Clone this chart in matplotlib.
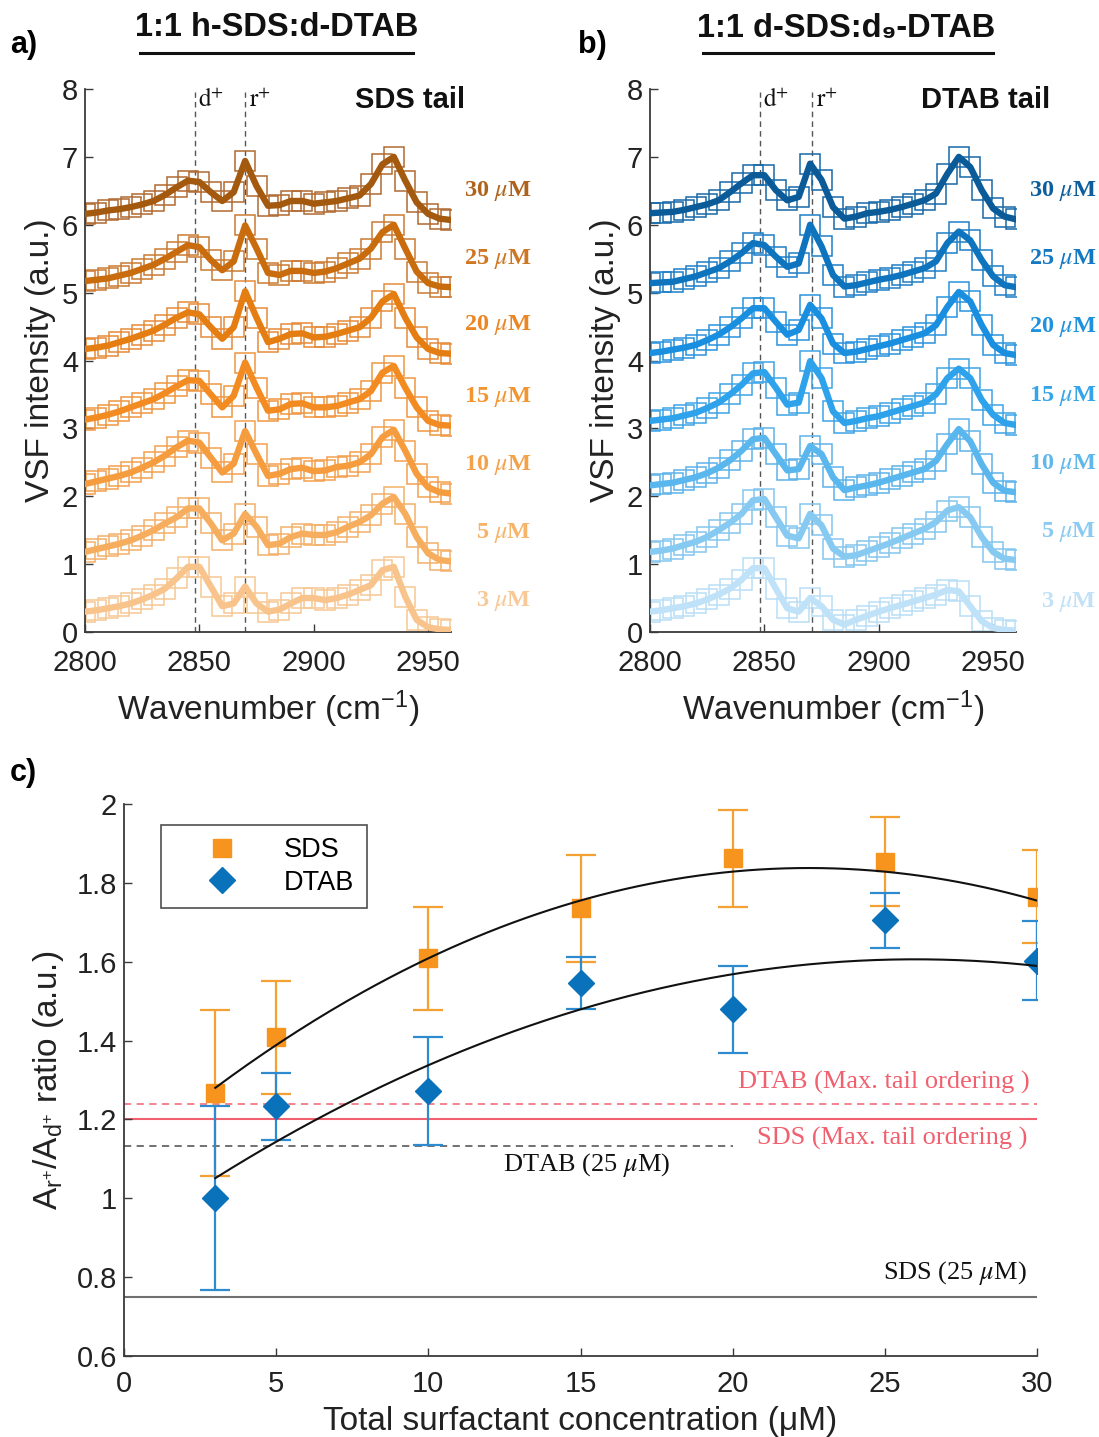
import numpy as np
import matplotlib
matplotlib.use("Agg")
import matplotlib.pyplot as plt
from matplotlib.lines import Line2D

plt.rcParams['font.family'] = ['Liberation Sans', 'DejaVu Sans']
plt.rcParams['mathtext.fontset'] = 'custom'
plt.rcParams['mathtext.rm'] = 'Liberation Sans'
plt.rcParams['mathtext.it'] = 'Liberation Sans:italic'
plt.rcParams['mathtext.bf'] = 'Liberation Sans:bold'

# ---------------- data: spectra ----------------
wavenumber = [2800, 2805, 2810, 2815, 2820, 2825, 2830, 2835, 2840, 2845, 2850,
              2855, 2860, 2865, 2870, 2875, 2880, 2885, 2890, 2895, 2900, 2905,
              2910, 2915, 2920, 2925, 2930, 2935, 2940, 2945, 2950, 2955, 2960]

conc_labels = ['3', '5', '10', '15', '20', '25', '30']

sds_3 = [.30, .32, .35, .38, .42, .48, .55, .64, .79, .96, .96, .67, .38, .42, .67, .42, .30,
         .33, .42, .50, .50, .47, .50, .55, .62, .69, .91, .96, .52, .18, .07, .04, .03]
sds_5 = [1.18, 1.22, 1.26, 1.30, 1.35, 1.42, 1.50, 1.60, 1.69, 1.82, 1.82, 1.60, 1.35, 1.45,
         1.74, 1.55, 1.28, 1.30, 1.40, 1.45, 1.43, 1.43, 1.47, 1.55, 1.62, 1.72, 1.89, 1.99,
         1.74, 1.40, 1.16, 1.06, 1.04]
sds_10 = [2.18, 2.22, 2.26, 2.30, 2.35, 2.42, 2.50, 2.60, 2.72, 2.82, 2.79, 2.57, 2.35, 2.48,
          2.96, 2.62, 2.30, 2.33, 2.40, 2.42, 2.37, 2.38, 2.43, 2.45, 2.50, 2.62, 2.87, 2.98,
          2.67, 2.33, 2.13, 2.06, 2.04]
sds_15 = [3.13, 3.16, 3.20, 3.25, 3.31, 3.37, 3.43, 3.52, 3.62, 3.71, 3.70, 3.50, 3.31, 3.48,
          3.97, 3.60, 3.26, 3.28, 3.36, 3.37, 3.31, 3.31, 3.33, 3.38, 3.43, 3.55, 3.82, 3.92,
          3.60, 3.31, 3.11, 3.05, 3.04]
sds_20 = [4.17, 4.19, 4.22, 4.27, 4.32, 4.38, 4.44, 4.53, 4.63, 4.71, 4.68, 4.49, 4.32, 4.49,
          5.02, 4.63, 4.27, 4.32, 4.39, 4.40, 4.34, 4.35, 4.39, 4.44, 4.49, 4.63, 4.87, 4.98,
          4.63, 4.34, 4.17, 4.11, 4.10]
sds_25 = [5.17, 5.19, 5.21, 5.25, 5.29, 5.35, 5.41, 5.50, 5.60, 5.70, 5.67, 5.48, 5.33, 5.46,
          5.99, 5.65, 5.29, 5.26, 5.32, 5.32, 5.29, 5.31, 5.36, 5.43, 5.50, 5.65, 5.89, 6.00,
          5.65, 5.31, 5.14, 5.09, 5.08]
sds_30 = [6.16, 6.18, 6.21, 6.23, 6.26, 6.30, 6.35, 6.44, 6.55, 6.65, 6.63, 6.48, 6.35, 6.48,
          6.94, 6.57, 6.28, 6.29, 6.35, 6.35, 6.31, 6.33, 6.35, 6.39, 6.43, 6.60, 6.89, 7.00,
          6.65, 6.33, 6.16, 6.09, 6.07]

dtab_3 = [.30, .32, .35, .38, .42, .48, .55, .64, .77, .94, .94, .64, .35, .30, .50, .38, .18,
          .11, .18, .24, .30, .35, .40, .45, .50, .55, .62, .60, .38, .16, .06, .03, .02]
dtab_5 = [1.18, 1.20, 1.23, 1.28, 1.33, 1.40, 1.50, 1.61, 1.74, 1.94, 1.96, 1.69, 1.42, 1.38,
          1.74, 1.57, 1.23, 1.11, 1.13, 1.19, 1.25, 1.31, 1.38, 1.45, 1.52, 1.62, 1.79, 1.84,
          1.69, 1.40, 1.18, 1.08, 1.06]
dtab_10 = [2.16, 2.18, 2.20, 2.24, 2.28, 2.34, 2.42, 2.53, 2.67, 2.84, 2.86, 2.62, 2.38, 2.40,
           2.74, 2.62, 2.28, 2.09, 2.13, 2.16, 2.20, 2.25, 2.30, 2.35, 2.40, 2.52, 2.77, 2.99,
           2.81, 2.47, 2.20, 2.08, 2.06]
dtab_15 = [3.11, 3.13, 3.15, 3.19, 3.23, 3.30, 3.38, 3.50, 3.64, 3.81, 3.83, 3.60, 3.35, 3.38,
           3.99, 3.74, 3.25, 3.08, 3.11, 3.15, 3.18, 3.23, 3.28, 3.33, 3.38, 3.50, 3.74, 3.88,
           3.74, 3.42, 3.20, 3.08, 3.05]
dtab_20 = [4.11, 4.13, 4.16, 4.19, 4.23, 4.30, 4.38, 4.49, 4.62, 4.77, 4.77, 4.57, 4.38, 4.45,
           4.82, 4.62, 4.25, 4.11, 4.13, 4.17, 4.21, 4.25, 4.30, 4.35, 4.40, 4.52, 4.79, 5.01,
           4.87, 4.52, 4.23, 4.11, 4.08]
dtab_25 = [5.14, 5.15, 5.16, 5.20, 5.24, 5.30, 5.36, 5.46, 5.58, 5.73, 5.70, 5.53, 5.38, 5.43,
           6.00, 5.68, 5.26, 5.09, 5.11, 5.15, 5.19, 5.22, 5.26, 5.31, 5.36, 5.46, 5.73, 5.90,
           5.77, 5.48, 5.24, 5.11, 5.08]
dtab_30 = [6.17, 6.18, 6.19, 6.22, 6.26, 6.30, 6.36, 6.48, 6.61, 6.73, 6.73, 6.51, 6.36, 6.41,
           6.90, 6.66, 6.26, 6.09, 6.12, 6.17, 6.19, 6.22, 6.26, 6.31, 6.36, 6.46, 6.75, 7.00,
           6.85, 6.51, 6.24, 6.12, 6.08]

sds_spectra = [sds_3, sds_5, sds_10, sds_15, sds_20, sds_25, sds_30]
dtab_spectra = [dtab_3, dtab_5, dtab_10, dtab_15, dtab_20, dtab_25, dtab_30]

peak_d_a, peak_r_a = 2848, 2870
peak_d_b, peak_r_b = 2848, 2871

# ---------------- data: ratio panel ----------------
conc = [3, 5, 10, 15, 20, 25, 30]
sds_ratio = [1.267, 1.408, 1.609, 1.735, 1.863, 1.854, 1.765]
sds_err = [0.210, 0.144, 0.131, 0.135, 0.123, 0.113, 0.118]
dtab_ratio = [1.000, 1.233, 1.271, 1.546, 1.479, 1.705, 1.603]
dtab_err = [0.233, 0.086, 0.137, 0.065, 0.111, 0.069, 0.101]
sds_fit_coef = [-0.001467, 0.0660, 1.0953]
dtab_fit_coef = [-0.001049, 0.05455, 0.8969]
fit_range = [3, 30]
ref_dtab_max = 1.238
ref_sds_max = 1.200
ref_dtab_25 = 1.132
ref_sds_25 = 0.750

# ---------------- styling ----------------
orange_lines = ['#F8C48C', '#F6AE5E', '#F59C3E', '#F28C22', '#E57E12', '#C86C0E', '#A3590E']
orange_marks = ['#F7C893', '#F4B06A', '#F2A050', '#EF9640', '#E68A38', '#CC7A33', '#B06A30']
orange_text = ['#F8C896', '#F6B468', '#F4A24A', '#F29530', '#EA8624', '#CE7622', '#AE621C']
blue_lines = ['#BFE2F8', '#86CAF2', '#5AB7EE', '#2EA2EA', '#1A8FE0', '#0F74BE', '#0A5B98']
blue_marks = ['#B9DEF6', '#84C6EF', '#5CB3EA', '#3EA3E6', '#2A92DC', '#1E7EC6', '#1668A8']
blue_text = ['#C0E1F7', '#8ACBF1', '#5FB8EC', '#35A4E8', '#1E92DD', '#1479C2', '#0D5E9C']

W, H = 1099, 1437
fig = plt.figure(figsize=(W / 100, H / 100), dpi=100)


def fx(px):
    return px / W


def fy(py):
    return 1 - py / H


def style_axes(ax, xpad):
    for s in ['top', 'right']:
        ax.spines[s].set_visible(False)
    for s in ['left', 'bottom']:
        ax.spines[s].set_color('#3a3a3a')
        ax.spines[s].set_linewidth(1.3)
    ax.tick_params(direction='in', length=6, width=1.0, colors='#3a3a3a',
                   labelsize=21, labelcolor='#222222')
    ax.tick_params(axis='x', pad=xpad)
    ax.tick_params(axis='y', pad=5)


def spectra_panel(rect, spectra, lcols, mcols, tcols, dpk, rpk, tail_text, tail_x):
    ax = fig.add_axes(rect)
    style_axes(ax, 12.5)
    for y, lc, mc in zip(spectra, lcols, mcols):
        ax.plot(wavenumber, y, 's', mfc='none', mec=mc, ms=14, mew=1.1, zorder=2)
        ax.plot(wavenumber, y, '-', color=lc, lw=4.6, zorder=3, solid_joinstyle='round')
    for y, lab, tc in zip(spectra, conc_labels, tcols):
        ax.text(2995, y[-1] + 0.42, lab + r' $\mu$M', ha='right', va='center', color=tc,
                fontsize=17.5, fontweight='bold', family='Liberation Serif',
                math_fontfamily='stix', clip_on=False)
    for pk, lab in [(dpk, r'$\mathrm{d}^{+}$'), (rpk, r'$\mathrm{r}^{+}$')]:
        ax.plot([pk, pk], [0, 7.95], ls=(0, (4, 3)), color='#555555', lw=1.0, zorder=1)
        ax.text(pk + 1.5, 7.84, lab, ha='left', va='center', fontsize=18,
                math_fontfamily='stix', color='#111111')
    ax.text(tail_x, 7.84, tail_text, ha='right', va='center', fontsize=21,
            fontweight='bold', color='#111111', clip_on=False)
    ax.set_xlim(2800, 2960)
    ax.set_ylim(0, 8)
    ax.set_xticks([2800, 2850, 2900, 2950])
    ax.set_yticks(range(0, 9))
    ax.set_xlabel(r'Wavenumber (cm$^{-1}$)', fontsize=24, color='#222222', labelpad=8)
    ax.set_ylabel('VSF intensity (a.u.)', fontsize=24, color='#222222', labelpad=4)
    return ax


axa = spectra_panel([fx(85), fy(632), fx(366), (632 - 89) / H], sds_spectra,
                    orange_lines, orange_marks, orange_text, peak_d_a, peak_r_a,
                    'SDS tail', 2966)
axb = spectra_panel([fx(650), fy(632), fx(366), (632 - 89) / H], dtab_spectra,
                    blue_lines, blue_marks, blue_text, peak_d_b, peak_r_b,
                    'DTAB tail', 2975)

# titles with underline
fig.text(fx(277), fy(28), '1:1 h-SDS:d-DTAB', ha='center', va='center',
         fontsize=23.5, fontweight='bold', color='#111111')
fig.text(fx(846), fy(28), '1:1 d-SDS:d₉-DTAB', ha='center', va='center',
         fontsize=23.5, fontweight='bold', color='#111111',
         family=['Liberation Sans', 'DejaVu Sans'])
fig.add_artist(Line2D([fx(140), fx(413)], [fy(53), fy(53)], color='#111111', lw=2.2))
fig.add_artist(Line2D([fx(703), fx(993)], [fy(53), fy(53)], color='#111111', lw=2.2))
fig.text(fx(10), fy(45), 'a)', ha='left', va='center', fontsize=22, fontweight='bold')
fig.text(fx(578), fy(45), 'b)', ha='left', va='center', fontsize=22, fontweight='bold')
fig.text(fx(10), fy(773), 'c)', ha='left', va='center', fontsize=22, fontweight='bold')

# ---------------- panel c ----------------
axc = fig.add_axes([fx(124), fy(1356), fx(913), (1356 - 804) / H])
style_axes(axc, 10)
axc.set_xlim(0, 30)
axc.set_ylim(0.6, 2.0)
axc.set_xticks([0, 5, 10, 15, 20, 25, 30])
axc.set_yticks([0.6, 0.8, 1.0, 1.2, 1.4, 1.6, 1.8, 2.0])
axc.set_yticklabels(['0.6', '0.8', '1', '1.2', '1.4', '1.6', '1.8', '2'])

red = '#F0606E'
axc.axhline(ref_dtab_max, xmin=0, xmax=1, color='#F27A86', lw=1.3, ls=(0, (4, 3)), zorder=1)
axc.axhline(ref_sds_max, xmin=0, xmax=1, color=red, lw=1.5, zorder=1)
axc.plot([0, 20], [ref_dtab_25, ref_dtab_25], color='#666666', lw=1.3, ls=(0, (4, 3)), zorder=1)
axc.axhline(ref_sds_25, color='#707070', lw=1.5, zorder=1)

xf = np.linspace(fit_range[0], fit_range[1], 200)
axc.plot(xf, np.polyval(sds_fit_coef, xf), color='#111111', lw=1.5, zorder=4)
axc.plot(xf, np.polyval(dtab_fit_coef, xf), color='#111111', lw=1.5, zorder=4)

axc.errorbar(conc, sds_ratio, yerr=sds_err, fmt='none', ecolor='#F5A033', elinewidth=1.6,
             capsize=11, capthick=1.6, zorder=2)
axc.errorbar(conc, dtab_ratio, yerr=dtab_err, fmt='none', ecolor='#2E8BD0', elinewidth=1.6,
             capsize=11, capthick=1.6, zorder=2)
axc.plot(conc, sds_ratio, 's', color='#F7941D', ms=13, mec='#F7941D', zorder=3, label='SDS')
axc.plot(conc, dtab_ratio, 'D', color='#0A72BA', ms=13, mec='#0A72BA', zorder=3, label='DTAB')

leg = axc.legend(loc='upper left', bbox_to_anchor=((161 - 124) / 913, (1356 - 825) / 552),
                 fontsize=19.5, frameon=True, fancybox=False, edgecolor='#222222',
                 borderpad=0.45, handletextpad=0.5, handlelength=3.6, labelspacing=0.25,
                 borderaxespad=0)
leg.get_frame().set_linewidth(1.2)

serif = dict(family='Liberation Serif', math_fontfamily='stix')
axc.text(29.75, 1.295, 'DTAB (Max. tail ordering )', ha='right', va='center', color=red,
         fontsize=19, **serif)
axc.text(29.7, 1.153, 'SDS (Max. tail ordering )', ha='right', va='center', color=red,
         fontsize=19, **serif)
axc.text(12.45, 1.085, r'DTAB (25 $\mu$M)', ha='left', va='center', color='#111111',
         fontsize=19, **serif)
axc.text(29.65, 0.81, r'SDS (25 $\mu$M)', ha='right', va='center', color='#111111',
         fontsize=19, **serif)

axc.set_xlabel('Total surfactant concentration (μM)', fontsize=24, color='#222222', labelpad=6)
axc.set_ylabel(r'$\mathrm{A}_{\mathrm{r}^{+}}/\mathrm{A}_{\mathrm{d}^{+}}$ ratio (a.u.)',
               fontsize=24, color='#222222', labelpad=8)

fig.savefig('out.png', dpi=100)
